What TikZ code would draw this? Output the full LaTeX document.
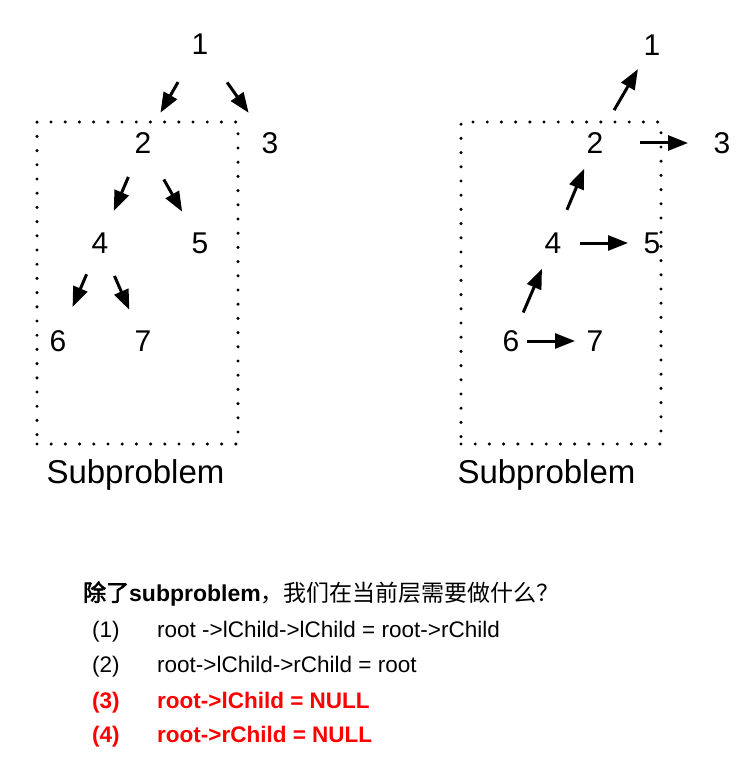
\documentclass[tikz,border=0pt]{standalone}
\usepackage{fontspec}
\setmainfont{Liberation Sans}
\newfontfamily\cjk{Noto Sans CJK SC}
\newfontfamily\cjkbf{Noto Sans CJK SC}[FakeBold=2.5]
\usetikzlibrary{arrows.meta}

\begin{document}
\begin{tikzpicture}[x=1pt,y=-1pt,
  num/.style={font=\fontsize{30}{36}\selectfont,inner sep=0pt,text height=21.5pt,text depth=0pt},
  arr/.style={line width=3pt,-{Triangle[length=20pt,width=15pt]}},
  subbox/.style={draw,line width=3.4pt,line cap=round,dash pattern=on 0pt off 14.2pt,
                 minimum height=322pt,inner sep=0pt},
  lbl/.style={font=\fontsize{33}{38}\selectfont,inner sep=0pt,anchor=base west},
  txt/.style={font=\fontsize{22.5}{27}\selectfont,inner sep=0pt,anchor=base west},
  hot/.style={txt,text=red,font=\fontsize{22.5}{27}\selectfont\bfseries}]
  \useasboundingbox (0,0) rectangle (753,759);

  \node[subbox,minimum width=201pt] (boxL) at (137.5,283) {};
  \node[lbl] (subL) at ([xshift=11pt,yshift=-38pt]boxL.south west) {Subproblem};
  \node[num] (l1) at (200,44) {1};
  \node[num] (l2) at (143,143) {2};
  \node[num] (l3) at (270,143) {3};
  \node[num] (l4) at (100,243) {4};
  \node[num] (l5) at (200,243) {5};
  \node[num] (l6) at (58,341) {6};
  \node[num] (l7) at (143,341) {7};
  \draw[arr,shorten <=44pt,shorten >=35pt] (l1.center) -- (l2.center);
  \draw[arr,shorten <=47pt,shorten >=37pt] (l1.center) -- (l3.center);
  \draw[arr,shorten <=37pt,shorten >=35pt] (l2.center) -- (l4.center);
  \draw[arr,shorten <=42pt,shorten >=36pt] (l2.center) -- (l5.center);
  \draw[arr,shorten <=34pt,shorten >=37pt] (l4.center) -- (l6.center);
  \draw[arr,shorten <=36pt,shorten >=34pt] (l4.center) -- (l7.center);

  \node[subbox,minimum width=200pt] (boxR) at (561,283) {};
  \node[lbl] (subR) at ([xshift=-2pt,yshift=-38pt]boxR.south west) {Subproblem};
  \node[num] (r1) at (652,45) {1};
  \node[num] (r2) at (595,143) {2};
  \node[num] (r3) at (722,143) {3};
  \node[num] (r4) at (553,243) {4};
  \node[num] (r5) at (652,243) {5};
  \node[num] (r6) at (511,341) {6};
  \node[num] (r7) at (595,341) {7};
  \draw[arr,shorten <=38pt,shorten >=28pt] (r2.center) -- (r1.center);
  \draw[arr,shorten <=45pt,shorten >=34pt] (r2.center) -- (r3.center);
  \draw[arr,shorten <=36pt,shorten >=28pt] (r4.center) -- (r2.center);
  \draw[arr,shorten <=27pt,shorten >=24pt] (r4.center) -- (r5.center);
  \draw[arr,shorten <=31pt,shorten >=28pt] (r6.center) -- (r4.center);
  \draw[arr,shorten <=16pt,shorten >=20pt] (r6.center) -- (r7.center);

  \node[txt,font=\fontsize{23}{28}\selectfont] (head) at (83,601)
    {{\cjkbf 除了}\textbf{subproblem}{\cjk ，我们在当前层需要做什么？}};
  \node[txt] (k1) at (92,637) {(1)};
  \node[txt] (c1) at (157,637) {root ->lChild->lChild = root->rChild};
  \node[txt] (k2) at (92,672) {(2)};
  \node[txt] (c2) at (157,672) {root->lChild->rChild = root};
  \node[hot] (k3) at (92,708) {(3)};
  \node[hot] (c3) at (157,708) {root->lChild = NULL};
  \node[hot] (k4) at (92,742) {(4)};
  \node[hot] (c4) at (157,742) {root->rChild = NULL};
\end{tikzpicture}
\end{document}
